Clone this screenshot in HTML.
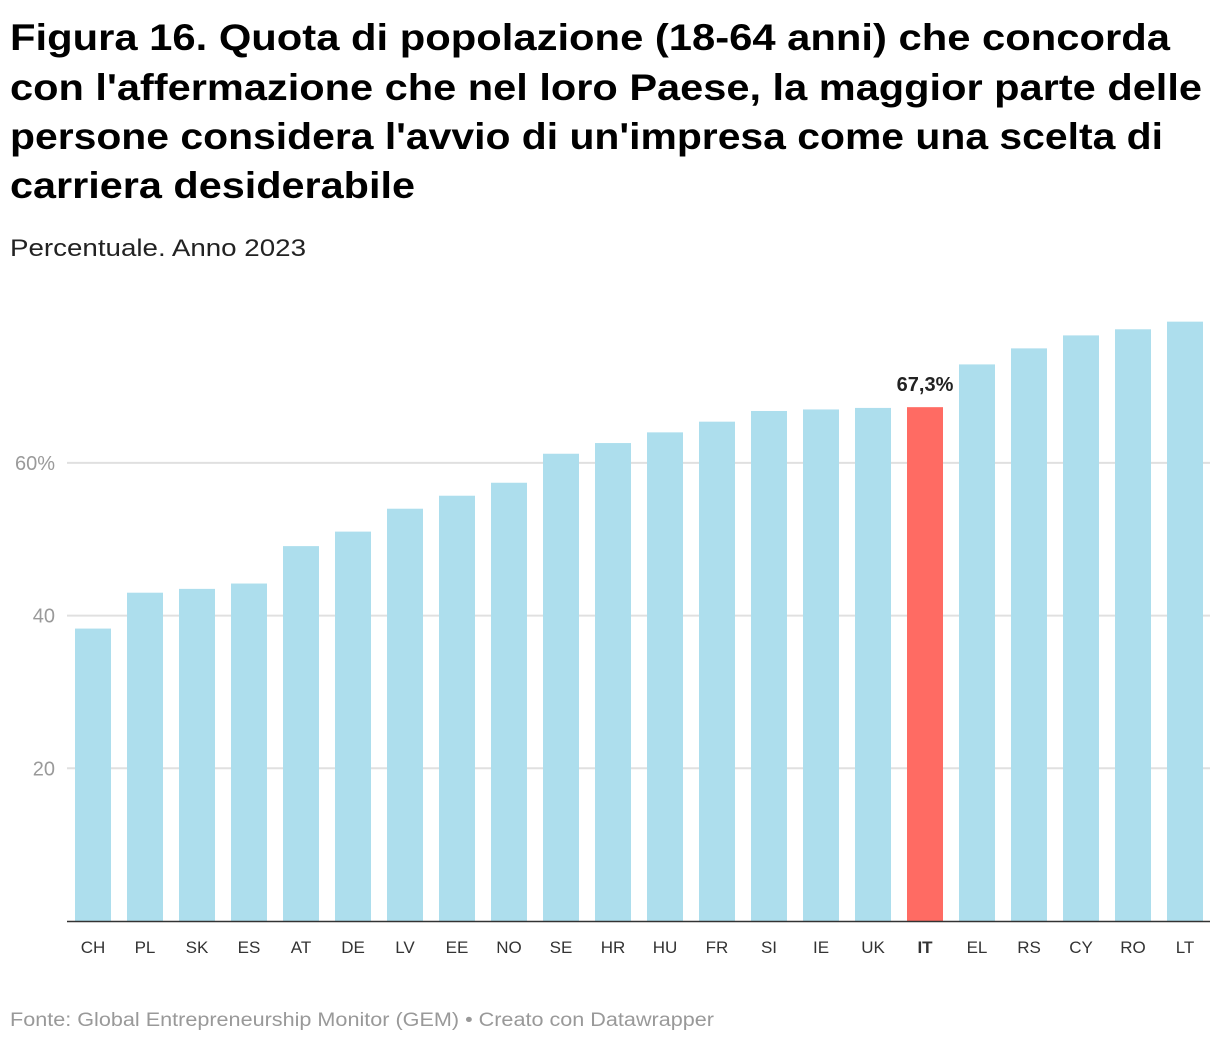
<!DOCTYPE html>
<html><head><meta charset="utf-8"><style>
body{margin:0;background:#fff;width:1220px;height:1042px;overflow:hidden}
svg{display:block;font-family:"Liberation Sans",sans-serif}
</style></head><body>
<svg id="chart" width="1220" height="1042">
<g font-weight="bold" font-size="37" fill="#000">
<text x="10" y="50" textLength="1160" lengthAdjust="spacingAndGlyphs">Figura 16. Quota di popolazione (18-64 anni) che concorda</text>
<text x="10" y="100" textLength="1192" lengthAdjust="spacingAndGlyphs">con l'affermazione che nel loro Paese, la maggior parte delle</text>
<text x="10" y="149" textLength="1153" lengthAdjust="spacingAndGlyphs">persone considera l'avvio di un'impresa come una scelta di</text>
<text x="10" y="198" textLength="405" lengthAdjust="spacingAndGlyphs">carriera desiderabile</text>
</g>
<text x="10" y="256" font-size="24" fill="#222" textLength="296" lengthAdjust="spacingAndGlyphs">Percentuale. Anno 2023</text>
<g id="grid"></g><g id="bars"></g><g id="xlabels"></g>
<line x1="67" x2="1210" y1="921.5" y2="921.5" stroke="#333" stroke-width="1.5"/>
<text x="10" y="1026" font-size="19" fill="#999" textLength="704" lengthAdjust="spacingAndGlyphs">Fonte: Global Entrepreneurship Monitor (GEM) • Creato con Datawrapper</text>
</svg>
<script>
const categories=["CH","PL","SK","ES","AT","DE","LV","EE","NO","SE","HR","HU","FR","SI","IE","UK","IT","EL","RS","CY","RO","LT"];
const values=[38.3,43.0,43.5,44.2,49.1,51.0,54.0,55.7,57.4,61.2,62.6,64.0,65.4,66.8,67.0,67.2,67.3,72.9,75.0,76.7,77.5,78.5];
const yTicks=[20,40,60];
const yTickLabels=["20","40","60%"];
const highlight="IT";
const NS="http://www.w3.org/2000/svg";
const y0=921,pxPerUnit=7.635;
const y=v=>y0-v*pxPerUnit;
const x=i=>75+i*52;
const bw=36;
function mk(t,a,p){const e=document.createElementNS(NS,t);for(const k in a)e.setAttribute(k,a[k]);p.appendChild(e);return e;}
const grid=document.getElementById('grid');
yTicks.forEach((t,i)=>{
 const l=mk('line',{x1:67,x2:1210,y1:y(t),y2:y(t),stroke:'#e0e0e0','stroke-width':2},grid);
 
 
 const tx=mk('text',{x:55,y:y(t)+7,'text-anchor':'end','font-size':20,fill:'#9a9a9a'},grid);
 tx.textContent=yTickLabels[i];
 
 
});
const bars=document.getElementById('bars'),xl=document.getElementById('xlabels');
categories.forEach((c,i)=>{
 const v=values[i],hl=c===highlight;
 const r=mk('rect',{x:x(i),y:y(v),width:bw,height:y0-y(v),fill:hl?'#ff6b63':'#addeed'},bars);
 
 
 const t=mk('text',{x:x(i)+bw/2,y:953,'text-anchor':'middle','font-size':17,fill:'#333','font-weight':hl?'bold':'normal'},xl);
 t.textContent=c;
 
 
 if(hl){
  const lb=mk('text',{x:x(i)+bw/2,y:y(v)-16,'text-anchor':'middle','font-size':20,'font-weight':'bold',fill:'#222'},bars);
  lb.textContent=v.toFixed(1).replace('.',',')+'%';
  
  
 }
});
</script>
</body></html>
